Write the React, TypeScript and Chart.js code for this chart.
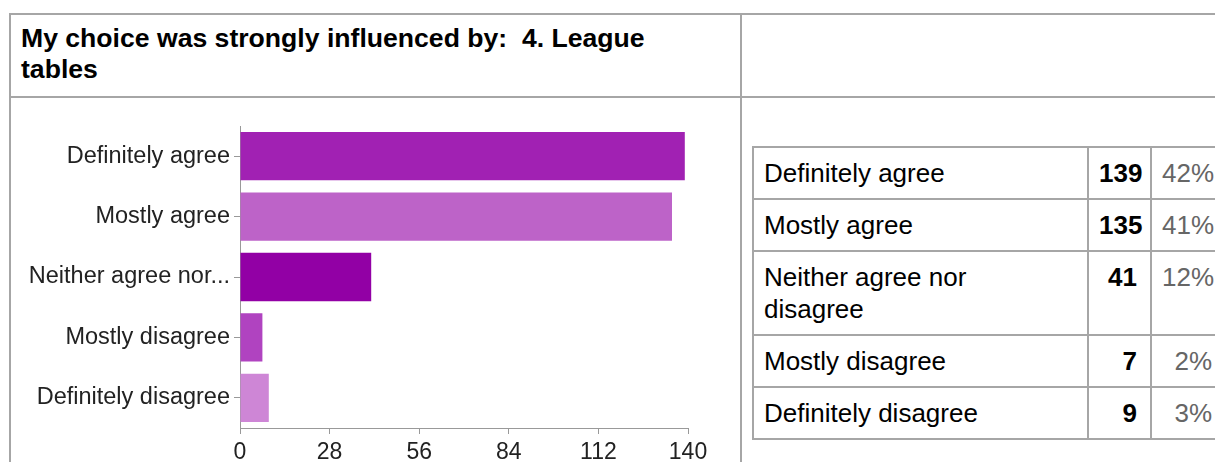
import React, { useEffect, useRef } from "react";
import { Chart, registerables } from "chart.js";

Chart.register(...registerables);

const titleLine1 = "My choice was strongly influenced by:\u00a0 4. League";
const titleLine2 = "tables";
const categories = [
  "Definitely agree",
  "Mostly agree",
  "Neither agree nor disagree",
  "Mostly disagree",
  "Definitely disagree",
];
const axisLabels = [
  "Definitely agree",
  "Mostly agree",
  "Neither agree nor...",
  "Mostly disagree",
  "Definitely disagree",
];
const counts = [139, 135, 41, 7, 9];
const percents = ["42%", "41%", "12%", "2%", "3%"];
const barColors = ["#a121b3", "#bd63c8", "#9200a5", "#b043c0", "#ce86d6"];
const xTicks = [0, 28, 56, 84, 112, 140];

const FONT = '"Liberation Sans", Arial, Helvetica, sans-serif';
const LINE = "#a6a6a6";

function BarChart() {
  const ref = useRef<HTMLCanvasElement | null>(null);
  useEffect(() => {
    if (!ref.current) return;
    const chart = new Chart(ref.current, {
      type: "bar",
      data: {
        labels: axisLabels,
        datasets: [
          {
            data: counts,
            backgroundColor: barColors,
            borderWidth: 0,
            barPercentage: 0.8,
            categoryPercentage: 1,
          },
        ],
      },
      options: {
        animation: false,
        responsive: false,
        maintainAspectRatio: false,
        indexAxis: "y",
        layout: { padding: { top: 27, right: 50, bottom: 0, left: 0 } },
        plugins: { legend: { display: false }, tooltip: { enabled: false } },
        scales: {
          x: {
            type: "linear",
            min: 0,
            max: 140,
            afterBuildTicks: (axis: any) => {
              axis.ticks = xTicks.map((v) => ({ value: v }));
            },
            afterFit: (axis: any) => {
              axis.height = 42;
            },
            grid: { drawOnChartArea: false, drawTicks: true, tickLength: 6, color: "#999" },
            border: { color: "#999" },
            ticks: {
              font: { size: 23, family: FONT },
              color: "#222",
              padding: 5,
              maxRotation: 0,
              autoSkip: false,
            },
          },
          y: {
            type: "category",
            offset: true,
            afterFit: (axis: any) => {
              axis.width = 228;
            },
            grid: { offset: false, drawOnChartArea: false, drawTicks: true, tickLength: 6, color: "#999" },
            border: { color: "#999" },
            ticks: {
              font: { size: 23.5, family: FONT },
              color: "#222",
              padding: 4,
              autoSkip: false,
            },
          },
        },
      } as any,
    });
    return () => chart.destroy();
  }, []);
  return <canvas ref={ref} width={726} height={371} style={{ display: "block", width: 726, height: 371 }} />;
}

export default function App() {
  const cell: React.CSSProperties = {
    borderRight: `2px solid ${LINE}`,
    borderBottom: `2px solid ${LINE}`,
    padding: "9px 10px",
    lineHeight: "32px",
    fontSize: 26,
    verticalAlign: "top",
    color: "#000",
    boxSizing: "border-box",
  };
  return (
    <div
      style={{
        position: "relative",
        width: 1215,
        height: 454,
        overflow: "hidden",
        fontFamily: FONT,
        background: "#fff",
      }}
    >
      <div
        style={{
          position: "absolute",
          left: 1,
          top: 5,
          width: 1300,
          height: 600,
          border: `2px solid ${LINE}`,
          boxSizing: "border-box",
        }}
      />
      <div style={{ position: "absolute", left: 1, top: 88, width: 1300, height: 2, background: LINE }} />
      <div style={{ position: "absolute", left: 732, top: 5, width: 2, height: 600, background: LINE }} />
      <div
        style={{
          position: "absolute",
          left: 13,
          top: 15,
          width: 700,
          fontSize: 26.6,
          fontWeight: "bold",
          lineHeight: "31px",
          color: "#000",
          whiteSpace: "nowrap",
        }}
      >
        {titleLine1}
        <br />
        {titleLine2}
      </div>
      <div style={{ position: "absolute", left: 4, top: 91 }}>
        <BarChart />
      </div>
      <table
        style={{
          position: "absolute",
          left: 744,
          top: 138,
          width: 470,
          borderCollapse: "separate",
          borderSpacing: 0,
          tableLayout: "fixed",
          borderTop: `2px solid ${LINE}`,
          borderLeft: `2px solid ${LINE}`,
          boxSizing: "border-box",
        }}
      >
        <colgroup>
          <col style={{ width: 335 }} />
          <col style={{ width: 63 }} />
          <col style={{ width: 70 }} />
        </colgroup>
        <tbody>
          {categories.map((c, i) => (
            <tr key={c}>
              <td style={cell}>
                <div style={{ width: 290 }}>{c}</div>
              </td>
              <td style={{ ...cell, textAlign: "right", fontWeight: "bold", paddingRight: 13 }}>{counts[i]}</td>
              <td style={{ ...cell, textAlign: "right", color: "#666", paddingRight: 8 }}>{percents[i]}</td>
            </tr>
          ))}
        </tbody>
      </table>
    </div>
  );
}
